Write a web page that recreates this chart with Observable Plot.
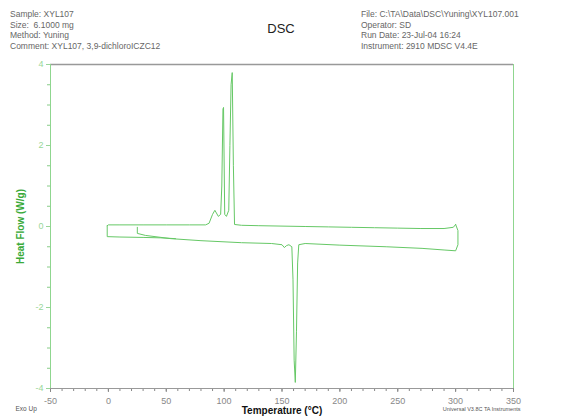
<!DOCTYPE html>
<html>
<head>
<meta charset="utf-8">
<script src="https://cdn.jsdelivr.net/npm/d3@7"></script>
<script src="https://cdn.jsdelivr.net/npm/@observablehq/plot@0.6"></script>
<style>
  html, body { margin: 0; padding: 0; background: #fff; }
  #wrap { width: 566px; height: 419px; position: relative; font-family: "Liberation Sans", Arial, sans-serif; }
  #hdr { position: relative; height: 58px; width: 566px; }
  .blk { position: absolute; font-size: 8.5px; line-height: 10.6px; color: #666; white-space: nowrap; }
  #title { position: absolute; left: 0; width: 562px; text-align: center; top: 21px; font-size: 13px; color: #222; }
  g[aria-label="y-axis label"] text { fill: #3aaa3a; font-weight: bold; font-size: 10px; }
  g[aria-label="x-axis label"] text { fill: #111; font-weight: bold; font-size: 10px; }
</style>
</head>
<body>
<div id="wrap">
  <div id="hdr">
    <div class="blk" style="left:10px; top:9px;">Sample: XYL107<br>Size:&nbsp; 6.1000 mg<br>Method: Yuning<br>Comment: XYL107, 3,9-dichloroICZC12</div>
    <div id="title">DSC</div>
    <div class="blk" style="left:361px; top:9px;">File: C:\TA\Data\DSC\Yuning\XYL107.001<br>Operator: SD<br>Run Date: 23-Jul-04 16:24<br>Instrument: 2910 MDSC V4.4E</div>
  </div>
  <div id="chart"></div>
</div>
<script>
// Tick values
const xTicks = [-50, 0, 50, 100, 150, 200, 250, 300, 350];
const yTicks = [-4, -2, 0, 2, 4];

// First heating (starts at 25 °C, melting endotherm near 161 °C)
const heat1T  = [25, 25, 32, 54, 80, 115, 141, 150, 152, 154, 156, 158.5, 159.5, 160.5, 161.5, 162.5, 163.5, 164.5, 170, 200, 240, 271, 290, 300, 302, 302, 300];
const heat1HF = [-0.02, -0.17, -0.22, -0.3, -0.35, -0.4, -0.42, -0.45, -0.52, -0.47, -0.45, -0.5, -1.3, -3.3, -3.85, -2.6, -0.9, -0.45, -0.42, -0.46, -0.5, -0.54, -0.58, -0.6, -0.45, -0.1, 0.05];

// Cooling (from 300 °C, crystallization exotherms near 99 and 107 °C)
const coolT  = [300, 298, 290, 270, 250, 230, 210, 190, 170, 150, 130, 115, 109, 108, 107, 106, 105, 104, 102, 100.5, 99.5, 99, 98, 97, 95, 92, 90, 87, 84, 70, 50, 30, 10, 0, -1];
const coolHF = [0.05, -0.02, -0.05, -0.05, -0.04, -0.03, -0.02, -0.01, 0.0, 0.01, 0.02, 0.03, 0.05, 1.5, 3.8, 3.5, 2.0, 0.4, 0.25, 0.3, 2.94, 2.9, 1.0, 0.3, 0.25, 0.4, 0.3, 0.08, 0.04, 0.04, 0.04, 0.04, 0.04, 0.04, 0.02];

// Second heating start (from 0 °C)
const heat2T  = [-1, -1, 10, 30, 45, 58];
const heat2HF = [0.02, -0.25, -0.26, -0.27, -0.28, -0.3];

const toRows = (T, H) => T.map((t, i) => ({T: t, hf: H[i]}));
const heat1 = toRows(heat1T, heat1HF);
const cool = toRows(coolT, coolHF);
const heat2 = toRows(heat2T, heat2HF);

const xMinor = d3.range(-50, 351, 10);
const yMinor = d3.range(-4, 4.01, 0.5);
const lineColor = "#66c866";

const chart = Plot.plot({
  width: 566,
  height: 361,
  marginLeft: 50,
  marginRight: 53,
  marginTop: 6,
  marginBottom: 31,
  x: {domain: [-50, 350]},
  y: {domain: [-4, 4]},
  style: {fontFamily: "Liberation Sans, Arial, sans-serif", fontSize: "9px", background: "white"},
  marks: [
    Plot.axisY(yMinor, {tickSize: 3, text: null, label: null, stroke: "#88cc88"}),
    Plot.axisY(yTicks, {tickSize: 4, tickPadding: 3, color: "#99d699", tickFormat: d => String(d),
      label: "Heat Flow (W/g)", labelAnchor: "center", labelOffset: 34, labelArrow: "none"}),
    Plot.axisX(xMinor, {tickSize: 3, text: null, label: null, stroke: "#888"}),
    Plot.axisX(xTicks, {tickSize: 4, color: "#888", tickFormat: d => String(d),
      label: "Temperature (°C)", labelAnchor: "center", labelOffset: 25, labelArrow: "none"}),
    Plot.ruleY([4], {stroke: "#999", strokeWidth: 1.3}),
    Plot.ruleY([-4], {stroke: "#999"}),
    Plot.ruleX([-50], {stroke: "#8fd68f"}),
    Plot.ruleX([350], {stroke: "#8fd68f"}),
    Plot.line(heat1, {x: "T", y: "hf", stroke: lineColor, strokeWidth: 1}),
    Plot.line(cool, {x: "T", y: "hf", stroke: lineColor, strokeWidth: 1}),
    Plot.line(heat2, {x: "T", y: "hf", stroke: lineColor, strokeWidth: 1}),
    Plot.text(["Exo Up"], {frameAnchor: "bottom-left", dx: -35, dy: 22, textAnchor: "start", fontSize: 6.5, fill: "#555"}),
    Plot.text(["Universal V3.8C TA Instruments"], {frameAnchor: "bottom-right", dx: 7, dy: 22, textAnchor: "end", fontSize: 5.5, fill: "#555"})
  ]
});
document.getElementById("chart").appendChild(chart);
</script>
</body>
</html>
